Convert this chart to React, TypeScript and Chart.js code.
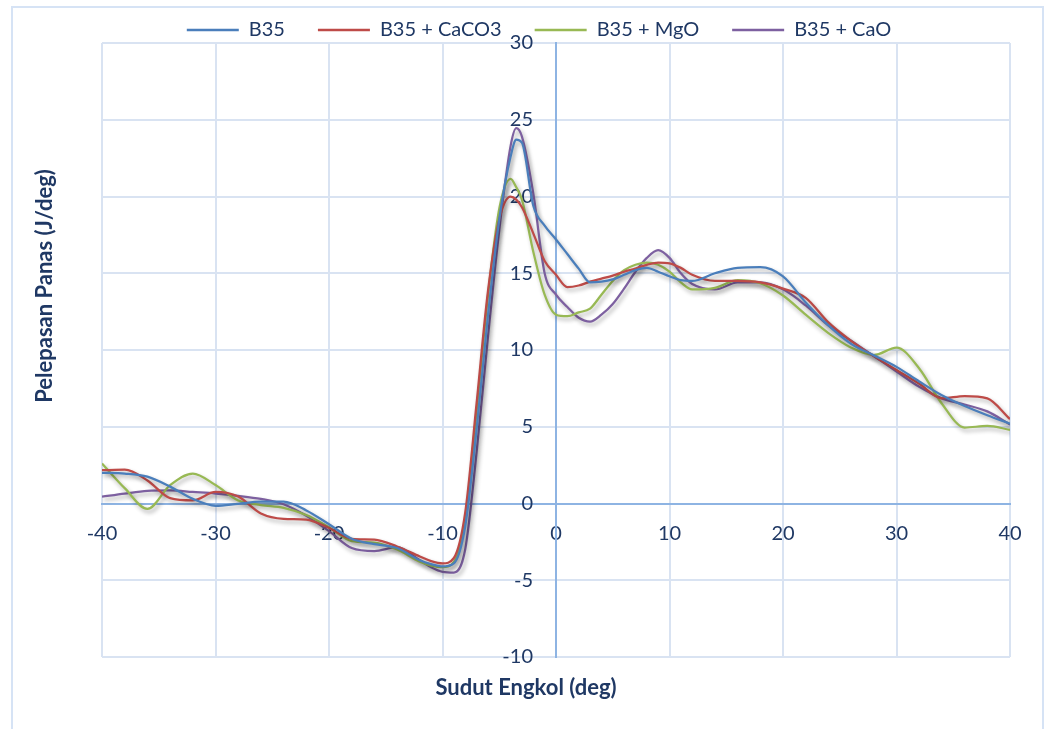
import React, { useEffect, useRef } from 'react';
import { Chart, registerables } from 'chart.js';

Chart.register(...registerables);

// Crank angle (deg)
const crankAngle = [
  -40, -38, -36, -34, -32, -30, -28, -26, -24, -22, -20, -18, -16, -14, -12,
  -11, -10, -9, -8, -7, -6, -5, -4, -3.5,
  -3, -2, -1, 0, 1, 2, 3, 4, 5, 6, 7, 8, 9, 10, 11, 12,
  14, 16, 18, 20, 22, 24, 26, 28, 30, 32, 34, 36, 38, 40,
];

const b35 = [
  2.0, 1.95, 1.75, 1.1, 0.3, -0.15, -0.02, 0.12, 0.12, -0.45, -1.35, -2.3, -2.65, -2.9, -3.7,
  -3.95, -4.1, -3.9, -1.5, 4.8, 12.2, 18.5, 22.6, 23.7,
  23.5, 19.4, 18.1, 17.2, 16.25, 15.3, 14.4, 14.45, 14.6, 14.9, 15.2, 15.35, 15.1, 14.8, 14.55, 14.5,
  15.0, 15.35, 15.4, 14.8, 13.1, 11.6, 10.4, 9.65, 8.9, 7.95, 7.05, 6.35, 5.75, 5.2,
];

const b35CaCO3 = [
  2.17, 2.2, 1.5, 0.35, 0.2, 0.75, 0.45, -0.65, -1.0, -1.05, -1.6, -2.3, -2.35, -2.8, -3.45,
  -3.75, -3.9, -3.55, -0.6, 6.5, 13.8, 18.5, 20.0, 19.8,
  19.3, 17.6, 15.8, 14.9, 14.1, 14.2, 14.45, 14.65, 14.85, 15.1, 15.3, 15.55, 15.7, 15.65, 15.35, 14.9,
  14.5, 14.5, 14.4, 14.0, 13.4, 11.8, 10.6, 9.6, 8.7, 7.8, 6.85, 7.0, 6.85, 5.5,
];

const b35MgO = [
  2.6, 1.0, -0.35, 1.2, 1.95, 1.2, 0.2, -0.1, -0.28, -0.75, -1.55, -2.45, -2.55, -3.0, -3.8,
  -4.05, -4.15, -3.8, -1.0, 6.0, 13.5, 19.2, 21.15, 20.6,
  19.8, 16.4, 13.6, 12.3, 12.2, 12.45, 12.7, 13.6, 14.5, 15.2, 15.55, 15.7, 15.55, 15.1, 14.4, 13.95,
  14.05, 14.55, 14.35, 13.55, 12.3, 11.1, 10.15, 9.67, 10.15, 8.8, 6.5, 4.95, 5.05, 4.8,
];

const b35CaO = [
  0.45, 0.65, 0.82, 0.85, 0.75, 0.65, 0.5, 0.3, -0.05, -0.8, -1.8, -2.9, -3.1, -2.85, -3.7,
  -4.15, -4.45, -4.5, -3.0, 3.3, 10.8, 17.8, 23.3, 24.45,
  23.9, 20.2, 15.0, 13.6, 12.8, 12.1, 11.85, 12.3, 13.0, 14.0, 15.1, 16.0, 16.5, 16.0, 15.0, 14.3,
  13.95, 14.4, 14.4, 13.95, 12.9, 11.6, 10.6, 9.6, 8.6, 7.6, 6.85, 6.45, 6.0, 5.15,
];

const seriesNames = ['B35', 'B35 + CaCO3', 'B35 + MgO', 'B35 + CaO'];
const seriesColors = ['#4A7EBB', '#BE4B48', '#98B954', '#7D60A0'];

const xRange = [-40, 40];
const xStep = 10;
const yRange = [-10, 30];
const yStep = 5;

const xTitle = 'Sudut Engkol (deg)';
const yTitle = 'Pelepasan Panas (J/deg)';

const gridColor = '#D9E3F2';
const axisColor = '#8EB4E3';
const textColor = '#1F3864';
const FONT = 'Lato, "Open Sans", "DejaVu Sans", sans-serif';

// plot width in px, used to place y tick labels a fixed pixel gap left of the x=0 axis
const PLOT_WIDTH_PX = 908;
const Y_LABEL_GAP_PX = 23;

const shadowPlugin = {
  id: 'lineShadow',
  beforeDatasetDraw(chart: any) {
    const c = chart.ctx;
    c.save();
    c.shadowColor = 'rgba(0,0,0,0.32)';
    c.shadowBlur = 4;
    c.shadowOffsetX = 2;
    c.shadowOffsetY = 3;
  },
  afterDatasetDraw(chart: any) {
    chart.ctx.restore();
  },
};

const legendShift = {
  id: 'legendShift',
  afterLayout(chart: any) {
    const l = chart.legend;
    if (!l) return;
    l.left -= 17;
    l.right -= 17;
    l.top += 7;
    l.bottom += 7;
  },
};

const axisTitles = {
  id: 'axisTitles',
  afterDraw(chart: any) {
    const { ctx, chartArea } = chart;
    ctx.save();
    ctx.fillStyle = textColor;
    ctx.font = `bold 22px ${FONT}`;
    ctx.textAlign = 'center';
    ctx.textBaseline = 'middle';
    ctx.fillText(xTitle, (chartArea.left + chartArea.right) / 2 - 30, chartArea.bottom + 31);
    ctx.translate(chartArea.left - 57, chartArea.top + 243);
    ctx.rotate(-Math.PI / 2);
    ctx.fillText(yTitle, 0, 0);
    ctx.restore();
  },
};

export default function App() {
  const ref = useRef<HTMLCanvasElement>(null);

  useEffect(() => {
    const series = [b35, b35CaCO3, b35MgO, b35CaO];
    const tickFont = { family: FONT, size: 20 };
    const yLabelX = -(Y_LABEL_GAP_PX * (xRange[1] - xRange[0])) / PLOT_WIDTH_PX;
    const chart = new Chart(ref.current as HTMLCanvasElement, {
      type: 'line',
      data: {
        datasets: series.map((vals, i) => ({
          label: seriesNames[i],
          data: crankAngle.map((x, j) => ({ x, y: vals[j] })),
          borderColor: seriesColors[i],
          backgroundColor: seriesColors[i],
          borderWidth: 2.25,
          pointRadius: 0,
          pointHoverRadius: 0,
          cubicInterpolationMode: 'monotone',
          fill: false,
          xAxisID: 'x',
          yAxisID: 'y',
        })),
      },
      options: {
        responsive: false,
        animation: false,
        events: [],
        layout: { padding: { top: -20, left: 102, right: 36, bottom: 72 } },
        plugins: {
          tooltip: { enabled: false },
          legend: {
            display: true,
            position: 'top',
            labels: {
              font: { family: FONT, size: 20 },
              color: textColor,
              boxWidth: 52,
              boxHeight: 2.5,
              padding: 33,
              generateLabels: (c: any) =>
                Chart.defaults.plugins.legend.labels
                  .generateLabels(c)
                  .map((l: any) => ({ ...l, lineWidth: 0 })),
            },
          },
        },
        scales: {
          x: {
            type: 'linear',
            min: xRange[0],
            max: xRange[1],
            position: 'bottom',
            ticks: { display: false, stepSize: xStep },
            grid: { color: gridColor, lineWidth: 2, drawTicks: false },
            border: { display: false },
          },
          y: {
            type: 'linear',
            min: yRange[0],
            max: yRange[1],
            position: 'left',
            ticks: { display: false, stepSize: yStep },
            grid: { color: gridColor, lineWidth: 2, drawTicks: false },
            border: { display: false },
          },
          x0: {
            type: 'linear',
            axis: 'x',
            min: xRange[0],
            max: xRange[1],
            position: { y: 0 },
            ticks: { stepSize: xStep, padding: 18, font: tickFont, color: textColor, autoSkip: false, maxRotation: 0 },
            grid: { display: false, drawTicks: false },
            border: { display: true, color: axisColor, width: 2 },
          },
          y0: {
            type: 'linear',
            axis: 'y',
            min: yRange[0],
            max: yRange[1],
            position: { x: 0 },
            ticks: { display: false, stepSize: yStep },
            grid: { display: false, drawTicks: false },
            border: { display: true, color: axisColor, width: 2 },
          },
          yLab: {
            type: 'linear',
            axis: 'y',
            min: yRange[0],
            max: yRange[1],
            position: { x: yLabelX },
            ticks: { stepSize: yStep, font: tickFont, color: textColor, autoSkip: false },
            grid: { display: false, drawTicks: false },
            border: { display: false },
          },
        },
      } as any,
      plugins: [shadowPlugin, legendShift, axisTitles],
    });
    return () => chart.destroy();
  }, []);

  return (
    <div style={{ position: 'fixed', left: 0, top: 0, width: 1046, height: 729, overflow: 'hidden', background: '#fff' }}>
      <div
        style={{
          position: 'absolute',
          left: 11,
          top: 6,
          width: 1033,
          height: 760,
          border: '2px solid #D6E3F5',
          boxSizing: 'border-box',
        }}
      />
      <canvas ref={ref} width={1046} height={729} style={{ position: 'absolute', left: 0, top: 0, width: 1046, height: 729 }} />
    </div>
  );
}
